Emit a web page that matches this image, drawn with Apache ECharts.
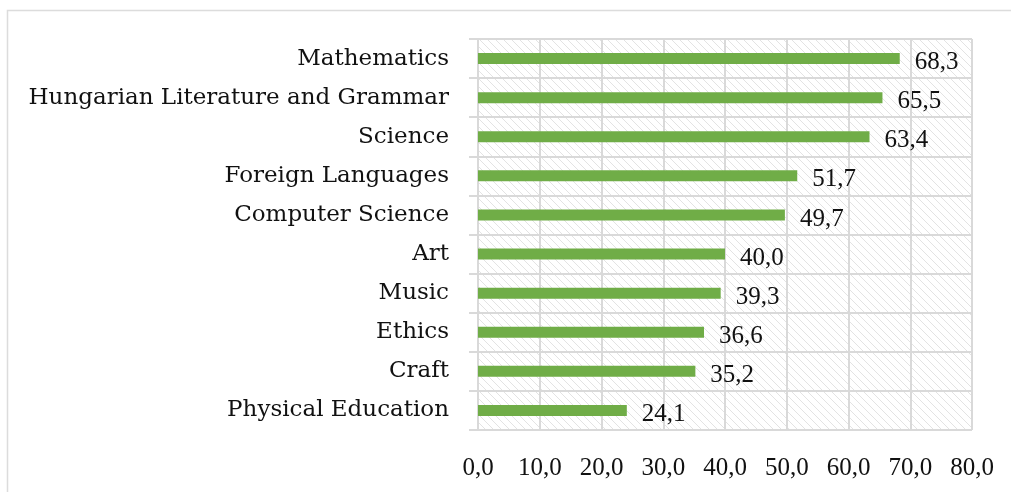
<!DOCTYPE html>
<html>
<head>
<meta charset="utf-8">
<script src="https://cdn.jsdelivr.net/npm/echarts@6/dist/echarts.min.js"></script>
<style>
  html, body { margin: 0; padding: 0; background: #fff; }
  #chart { width: 1011px; height: 492px; }
</style>
</head>
<body>
<div id="chart"></div>
<script>
// Subjects, bottom to top as drawn on the category axis
const subjects = [
  'Physical Education', 'Craft', 'Ethics', 'Music', 'Art',
  'Computer Science', 'Foreign Languages', 'Science',
  'Hungarian Literature and Grammar', 'Mathematics'
];
const scores = [24.1, 35.2, 36.6, 39.3, 40.0, 49.7, 51.7, 63.4, 65.5, 68.3];
const valueTicks = [0, 10, 20, 30, 40, 50, 60, 70, 80];

const TEXT_FONT = 'DejaVu Serif';
const NUM_FONT = 'Liberation Serif';
const GRID_COLOR = '#d9d9d9';

// Light diagonal hatch used as the plot-area fill
function hatchPattern() {
  const c = document.createElement('canvas');
  c.width = 8; c.height = 8;
  const g = c.getContext('2d');
  g.fillStyle = '#ffffff';
  g.fillRect(0, 0, 8, 8);
  g.strokeStyle = '#e3e3e3';
  g.lineWidth = 1;
  g.beginPath();
  g.moveTo(-1, -1); g.lineTo(9, 9);
  g.moveTo(-1, 7); g.lineTo(1, 9);
  g.moveTo(7, -1); g.lineTo(9, 1);
  g.stroke();
  return { image: c, repeat: 'repeat' };
}

// Decimal comma formatting, one decimal place
const fmt = v => v.toFixed(1).replace('.', ',');

const chart = echarts.init(document.getElementById('chart'), null, { renderer: 'canvas' });
chart.setOption({
  animation: false,
  backgroundColor: '#ffffff',
  graphic: [{
    // chart-area frame
    type: 'rect',
    shape: { x: 7.5, y: 10.5, width: 1100, height: 600 },
    style: { fill: 'none', stroke: '#dcdcdc', lineWidth: 1.5 },
    silent: true
  }],
  grid: {
    left: 478, right: 39, top: 39, bottom: 62,
    show: true,
    backgroundColor: hatchPattern(),
    borderWidth: 0
  },
  xAxis: {
    type: 'value',
    min: valueTicks[0],
    max: valueTicks[valueTicks.length - 1],
    interval: 10,
    axisLine: { show: false },
    axisTick: { show: false },
    splitLine: { show: true, lineStyle: { color: GRID_COLOR, width: 2 } },
    axisLabel: {
      fontFamily: NUM_FONT, fontSize: 25, color: '#111',
      margin: 26,
      formatter: v => fmt(v)
    }
  },
  yAxis: {
    type: 'category',
    data: subjects,
    axisLine: { show: true, lineStyle: { color: GRID_COLOR, width: 2 } },
    axisTick: { show: true, length: 9, lineStyle: { color: GRID_COLOR, width: 2 } },
    splitLine: { show: true, lineStyle: { color: GRID_COLOR, width: 2 } },
    axisLabel: {
      fontFamily: TEXT_FONT, fontSize: 23, color: '#111',
      margin: 29
    }
  },
  series: [{
    type: 'bar',
    data: scores,
    barWidth: 11,
    itemStyle: { color: '#70ad47' },
    label: {
      show: true,
      position: 'right',
      distance: 15,
      offset: [0, 4],
      fontFamily: NUM_FONT, fontSize: 25, color: '#111',
      formatter: p => fmt(p.value)
    }
  }]
});
</script>
</body>
</html>
